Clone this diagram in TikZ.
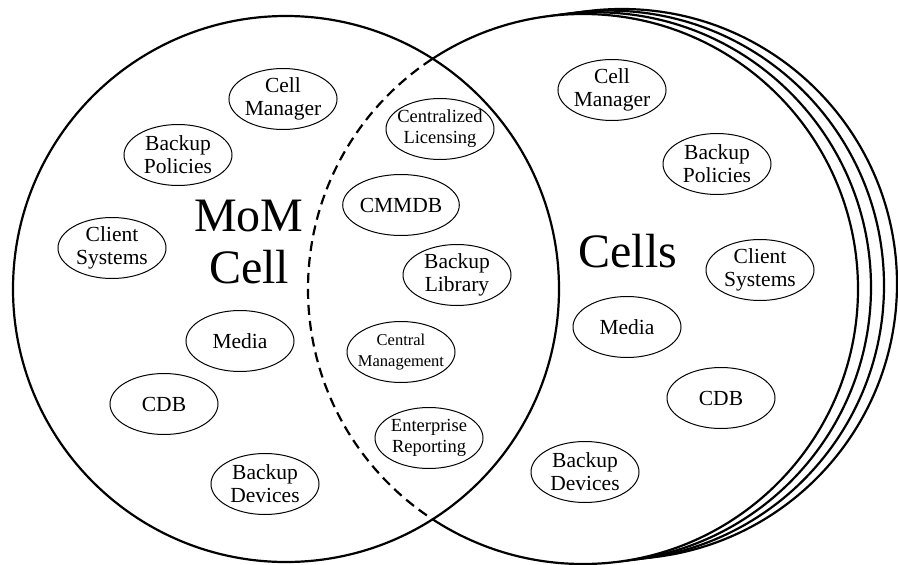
\documentclass[tikz,border=0pt]{standalone}
\usepackage{fontspec}
\setmainfont{Liberation Serif}
\usetikzlibrary{shapes.geometric}
\newcommand\nbx[1]{\makebox[72pt]{#1}}
\begin{document}
\begin{tikzpicture}[x=1pt,y=-1pt,
  bub/.style={draw, ellipse, line width=1pt, minimum width=108pt, minimum height=61pt, inner sep=0pt, align=center, font=\fontsize{21.5}{23}\selectfont},
  sbub/.style={bub, font=\fontsize{18.5}{21}\selectfont},
  xsbub/.style={bub, font=\fontsize{16.5}{21}\selectfont},
  bigtext/.style={font=\fontsize{48}{52}\selectfont, align=center, inner sep=0pt},
  ring/.style={line width=2.2pt},
  dashring/.style={line width=2.2pt, dash pattern=on 10pt off 6pt}]
\useasboundingbox (0,0) rectangle (898,565);
% centres
\coordinate (cL) at (286,289);
\coordinate (cR) at (583,289);
\coordinate (cB1) at (596,287.3);
\coordinate (cB2) at (609,285.6);
\coordinate (cB3) at (622,284);
% stacked back circles
\draw[ring, fill=white] (cB3) circle[radius=275pt];
\draw[ring, fill=white] (cB2) circle[radius=275pt];
\draw[ring, fill=white] (cB1) circle[radius=275pt];
% front cells circle
\draw[ring, fill=white] (cR) circle[radius=275pt];
% MoM cell circle
\fill[white] (cL) circle[radius=273pt];
\begin{scope}
  \clip (cL) circle[radius=273pt];
  \draw[dashring] (cR) circle[radius=275pt];
\end{scope}
\draw[ring] (cL) circle[radius=273pt];

% big labels
\node[bigtext] (mom) at (249,242) {MoM\\Cell};
\node[bigtext] (cells) at (628,251) {Cells};

% left
\node[bub] (lcm) at (283,99) {Cell\\Manager};
\node[bub] (lbp) at (178,155) {Backup\\Policies};
\node[bub] (lcs) at (112,248) {Client\\Systems};
\node[bub] (lmd) at (240,341) {Media};
\node[bub] (lcdb) at (164,404) {CDB};
\node[bub] (lbd) at (265,484) {Backup\\Devices};

% middle
\node[sbub] (mcl) at (440,129) {\nbx{Centralized}\\\nbx{Licensing}};
\node[bub] (mcmm) at (401,205) {CMMDB};
\node[bub] (mbl) at (457,275) {Backup\\Library};
\node[xsbub] (mcm) at (401,352) {\nbx{Central}\\\nbx{Management}};
\node[sbub] (mer) at (429,438) {\nbx{Enterprise}\\\nbx{Reporting}};

% right
\node[bub] (rcm) at (612,90) {Cell\\Manager};
\node[bub] (rbp) at (717,164) {Backup\\Policies};
\node[bub] (rcs) at (760,270) {Client\\Systems};
\node[bub] (rmd) at (627,327) {Media};
\node[bub] (rcdb) at (721,398) {CDB};
\node[bub] (rbd) at (585,472) {Backup\\Devices};
\end{tikzpicture}
\end{document}
